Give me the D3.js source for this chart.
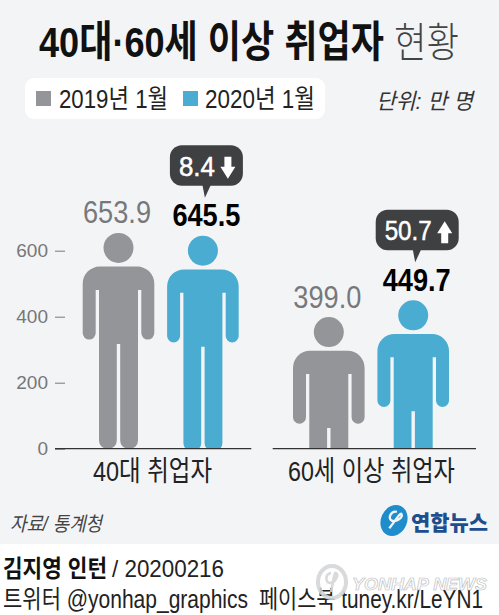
<!DOCTYPE html>
<html>
<head>
<meta charset="utf-8">
<script src="https://cdn.jsdelivr.net/npm/d3@7"></script>
<style>
html,body{margin:0;padding:0;background:#fff;}
svg{display:block;}
text{font-family:"Liberation Sans","Noto Sans CJK KR",sans-serif;}
</style>
</head>
<body>
<div id="chart"></div>
<script>
const categories = ["40대 취업자", "60세 이상 취업자"];
const seriesNames = ["2019년 1월", "2020년 1월"];
const values2019 = [653.9, 399.0];
const values2020 = [645.5, 449.7];
const changes = ["8.4", "50.7"];
const changeDirections = ["down", "up"];
const yTicks = [0, 200, 400, 600];

const width = 499, height = 615;
const grey = "#939598", blue = "#4bacd2", dark = "#3f4042";

const svg = d3.select("#chart").append("svg").attr("width", width).attr("height", height);

svg.append("rect").attr("width", width).attr("height", height).attr("fill", "#fff");
svg.append("rect").attr("width", width).attr("height", 544).attr("fill", "#f3f4f6");

// text squeezed to the measured width, the original type is condensed
function label(parent, str, x, y, size, w, opts){
    opts = opts || {};
    const t = parent.append("text")
        .attr("x", x).attr("y", y)
        .attr("font-size", size)
        .attr("font-weight", opts.weight || 400)
        .attr("font-style", opts.italic ? "italic" : "normal")
        .attr("fill", opts.fill || "#222")
        .attr("text-anchor", opts.anchor || "start")
        .text(str);
    if(w){
        t.attr("textLength", w).attr("lengthAdjust", "spacingAndGlyphs");
    }
    return t;
}

//Title
label(svg, "40대·60세 이상 취업자", 39, 57, 43, 345, {weight: 700, fill: "#111"});
label(svg, "현황", 394, 57, 41, 65, {weight: 300, fill: "#444"});

//Legend
svg.append("rect").attr("x", 25).attr("y", 78).attr("width", 300).attr("height", 41).attr("rx", 9).attr("fill", "#fff");
svg.append("rect").attr("x", 36).attr("y", 91).attr("width", 15).attr("height", 15).attr("fill", grey);
label(svg, seriesNames[0], 59, 108, 26, 109, {fill: "#222"});
svg.append("rect").attr("x", 183).attr("y", 91).attr("width", 15).attr("height", 15).attr("fill", blue);
label(svg, seriesNames[1], 205, 108, 26, 110, {fill: "#222"});
label(svg, "단위: 만 명", 376, 109, 22, 97, {italic: true, fill: "#333"});

//Scales
const y = d3.scaleLinear().domain([0, 600]).range([448.7, 250.7]);
const xGroup = d3.scaleOrdinal().domain(categories).range([160.7, 371]);
const xSeries = d3.scaleOrdinal().domain(seriesNames).range([-42.2, 42.2]);

//Y axis
const yAxis = svg.append("g")
    .attr("transform", "translate(55,0)")
    .call(d3.axisLeft(y).tickValues(yTicks).tickSizeInner(-10).tickSizeOuter(0).tickPadding(7));
yAxis.select(".domain").remove();
yAxis.selectAll("line").attr("stroke", "#777").attr("stroke-width", 1);
yAxis.selectAll("text")
    .attr("font-size", 19)
    .style("font-family", "'Liberation Sans',sans-serif")
    .attr("fill", "#777");

//Person silhouette, origin at top of the head, clipped to the baseline
const figureH = 216;
function personPath(){
    const p = d3.path();
    const hw = 35.8, sy = 33.7, sr = 17, armW = 13, armTop = 57, armEnd = 106.7;
    const torso = 19.5, gap = 1.7, crotch = 111, legR = 8.5, h = figureH;
    const r = armW / 2;
    p.moveTo(-hw + sr, sy);
    p.lineTo(hw - sr, sy);
    p.arcTo(hw, sy, hw, sy + sr, sr);
    p.lineTo(hw, armEnd - r);
    p.arc(hw - r, armEnd - r, r, 0, Math.PI);
    p.lineTo(hw - armW, armTop);
    p.lineTo(torso, armTop);
    p.lineTo(torso, h - legR);
    p.arc(torso - legR, h - legR, legR, 0, Math.PI / 2);
    p.lineTo(gap + legR, h);
    p.arc(gap + legR, h - legR, legR, Math.PI / 2, Math.PI);
    p.lineTo(gap, crotch);
    p.lineTo(-gap, crotch);
    p.lineTo(-gap, h - legR);
    p.arc(-gap - legR, h - legR, legR, 0, Math.PI / 2);
    p.lineTo(-torso + legR, h);
    p.arc(-torso + legR, h - legR, legR, Math.PI / 2, Math.PI);
    p.lineTo(-torso, armTop);
    p.lineTo(-hw + armW, armTop);
    p.lineTo(-hw + armW, armEnd - r);
    p.arc(-hw + r, armEnd - r, r, 0, Math.PI);
    p.lineTo(-hw, sy + sr);
    p.arcTo(-hw, sy, -hw + sr, sy, sr);
    p.closePath();
    return p.toString();
}

svg.append("defs").append("clipPath").attr("id", "plotClip")
    .append("rect").attr("x", 0).attr("y", 0).attr("width", width).attr("height", y(0));

const figures = [];
categories.forEach(function(c, i){
    figures.push({cat: c, series: seriesNames[0], value: values2019[i], color: grey});
    figures.push({cat: c, series: seriesNames[1], value: values2020[i], color: blue});
});

const people = svg.append("g").attr("clip-path", "url(#plotClip)")
    .selectAll("g").data(figures).enter().append("g")
    .attr("transform", function(d){
        return "translate(" + (xGroup(d.cat) + xSeries(d.series)) + "," + y(d.value) + ")";
    });
people.append("circle").attr("cx", 0).attr("cy", 15).attr("r", 15).attr("fill", function(d){ return d.color; });
people.append("path").attr("d", personPath()).attr("fill", function(d){ return d.color; });

//Value labels
svg.selectAll(".valueLabel").data(figures).enter().append("text")
    .attr("class", "valueLabel")
    .attr("x", function(d){ return xGroup(d.cat) + xSeries(d.series) + (d.series === seriesNames[0] ? -1.5 : 3.5); })
    .attr("y", function(d){ return y(d.value) - 9.5; })
    .attr("text-anchor", "middle")
    .attr("font-size", 31)
    .attr("font-weight", function(d){ return d.series === seriesNames[0] ? 400 : 700; })
    .attr("fill", function(d){ return d.series === seriesNames[0] ? "#77787b" : "#000"; })
    .attr("textLength", 68)
    .attr("lengthAdjust", "spacingAndGlyphs")
    .text(function(d){ return d3.format(".1f")(d.value); });

//Change bubbles
const bubbleW = [73, 83], textW = [36, 47];
categories.forEach(function(c, i){
    const cx = xGroup(c) + xSeries(seriesNames[1]);
    const bottom = y(values2020[i]) - 50;
    const top = bottom - 40.5;
    const left = cx + (i === 0 ? 3.5 : 4) - bubbleW[i] / 2;
    const g = svg.append("g");
    g.append("rect").attr("x", left).attr("y", top).attr("width", bubbleW[i]).attr("height", 40.5)
        .attr("rx", 12).attr("fill", dark);
    const tip = d3.path();
    tip.moveTo(cx - 0.5, bottom - 1);
    tip.lineTo(cx + 8, bottom - 1);
    tip.lineTo(cx + 2, bottom + 12);
    tip.closePath();
    g.append("path").attr("d", tip.toString()).attr("fill", dark);
    label(g, changes[i], left + 9, bottom - 10, 27, textW[i], {weight: 400, fill: "#fff"})
        .attr("stroke", "#fff").attr("stroke-width", 0.5);

    //arrow
    const ax = left + 9 + textW[i] + 13, ay = top + 22.5;
    const dir = changeDirections[i] === "down" ? 1 : -1;
    const a = d3.path();
    a.moveTo(ax - 3.5, ay - 11 * dir);
    a.lineTo(ax + 3.5, ay - 11 * dir);
    a.lineTo(ax + 3.5, ay - 1 * dir);
    a.lineTo(ax + 7.5, ay - 1 * dir);
    a.lineTo(ax, ay + 11 * dir);
    a.lineTo(ax - 7.5, ay - 1 * dir);
    a.lineTo(ax - 3.5, ay - 1 * dir);
    a.closePath();
    g.append("path").attr("d", a.toString()).attr("fill", "#fff");
});

//Baselines and category labels
const baselineExtent = [[55, 251.3], [272.7, 476]];
const catLabelX = [93, 288], catLabelW = [119, 167];
categories.forEach(function(c, i){
    svg.append("line")
        .attr("x1", baselineExtent[i][0]).attr("x2", baselineExtent[i][1])
        .attr("y1", y(0)).attr("y2", y(0))
        .attr("stroke", "#333").attr("stroke-width", 1.2);
    label(svg, c, catLabelX[i], 481, 28, catLabelW[i], {fill: "#222"});
});

//Source and logo
label(svg, "자료/ 통계청", 10, 531, 20, 92, {italic: true, fill: "#444"});
const logo = svg.append("g").attr("transform", "translate(394,520.5) rotate(25)");
logo.append("ellipse").attr("rx", 13).attr("ry", 16).attr("fill", "#1f8ccb");
logo.append("path").attr("d", "M-1,-9 C-7,-8 -7,1 -2,1 C3,1 7,-7 4,-9 C2,-10 1,2 -1,9")
    .attr("fill", "none").attr("stroke", "#f3f4f6").attr("stroke-width", 2.4);
label(svg, "연합뉴스", 411, 530, 21, 77, {weight: 900, fill: "#1d4f8f"});

//Footer
label(svg, "김지영 인턴", 3, 577, 24, 104, {weight: 700, fill: "#111"});
label(svg, "/ 20200216", 112, 577, 24, 112, {fill: "#222"});
label(svg, "트위터 @yonhap_graphics", 3, 608, 25, 245, {fill: "#222"});
label(svg, "페이스북 tuney.kr/LeYN1", 259, 608, 25, 224, {fill: "#222"});

//Watermark
const mark = svg.append("g").attr("opacity", 0.9);
mark.append("ellipse").attr("cx", 332).attr("cy", 582).attr("rx", 14).attr("ry", 16)
    .attr("fill", "none").attr("stroke", "#d5d6d8").attr("stroke-width", 4);
mark.append("path").attr("d", "M331,573 C325,574 325,583 330,583 C335,583 339,575 336,573 C334,572 333,584 331,592")
    .attr("fill", "none").attr("stroke", "#d5d6d8").attr("stroke-width", 2.6);
label(mark, "YONHAP NEWS", 352, 590, 16, 135, {weight: 700, italic: true, fill: "#fff"})
    .attr("stroke", "#b5b6b8").attr("stroke-width", 0.6);
</script>
</body>
</html>
